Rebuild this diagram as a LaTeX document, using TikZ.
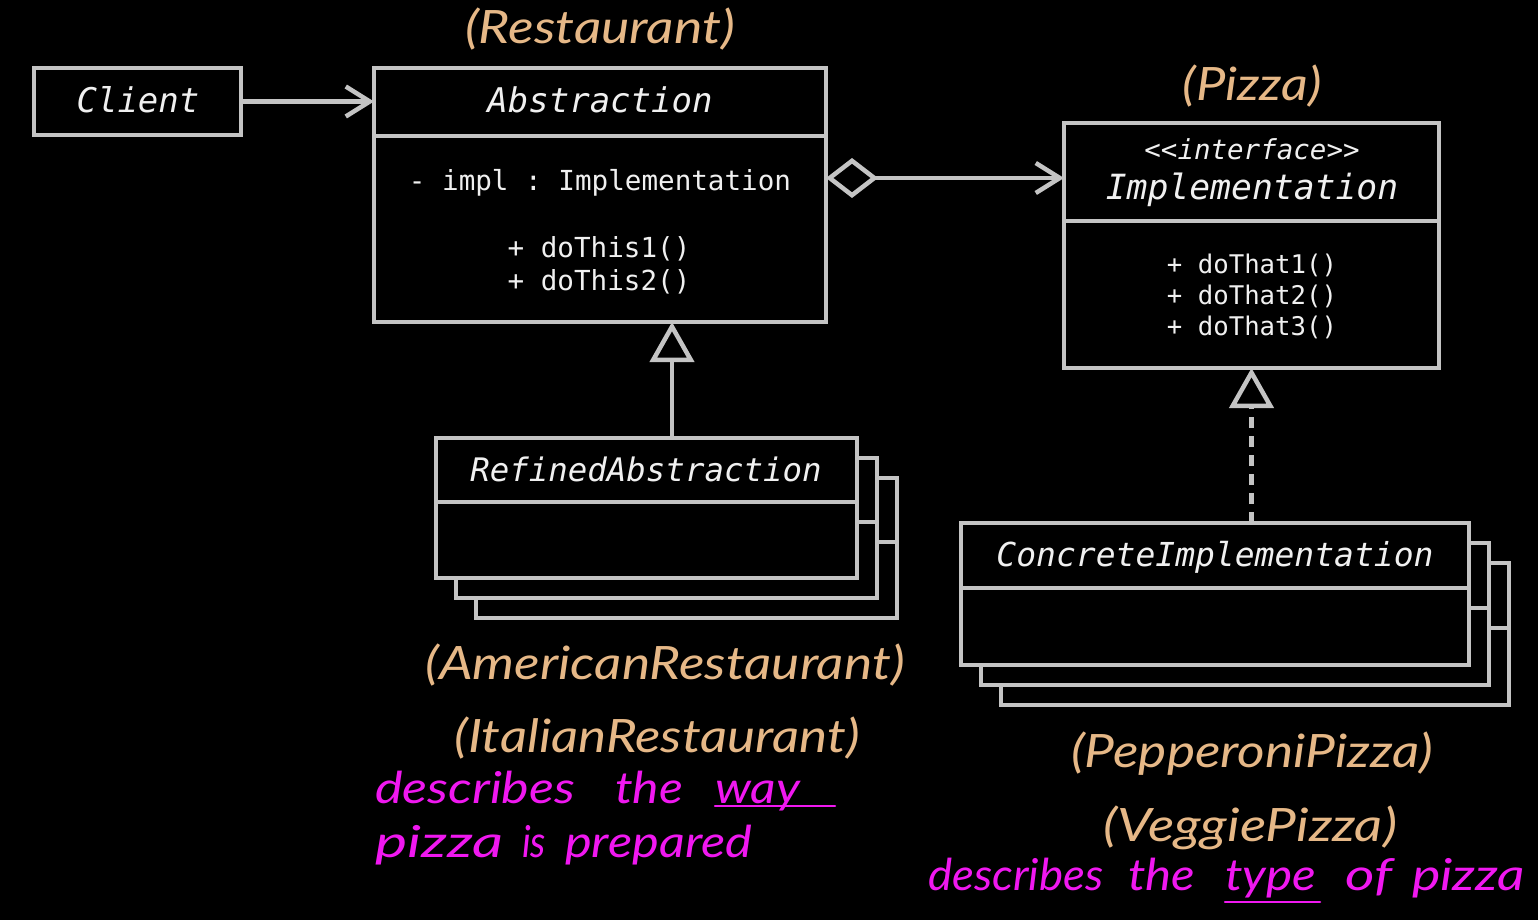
\documentclass[tikz,border=0pt]{standalone}
\usepackage{fontspec}
\usepackage{graphicx}
\usetikzlibrary{arrows.meta}
\setmonofont{DejaVu Sans Mono}[ItalicFont={DejaVu Sans Mono Oblique}]
\newfontfamily\orfont{Lato Italic}
\definecolor{linec}{RGB}{196,196,196}
\definecolor{txt}{RGB}{240,240,240}
\definecolor{orc}{RGB}{230,184,135}
\definecolor{mag}{RGB}{240,24,240}
\begin{document}
\begin{tikzpicture}[x=1pt,y=-1pt,
  ln/.style={draw=linec, line width=4.5pt},
  box/.style={ln, fill=black, rectangle, inner sep=0pt, outer sep=0pt, anchor=north west},
  mt/.style={font=\ttfamily\itshape\fontsize{34}{40}\selectfont, text=txt, anchor=base, inner sep=0pt},
  mm/.style={font=\ttfamily\fontsize{27.6}{32}\selectfont, text=txt, anchor=base, inner sep=0pt},
  orl/.style={font=\orfont\fontsize{46}{50}\selectfont, text=orc, anchor=base, inner sep=0pt},
  hand/.style={font=\orfont\fontsize{44}{48}\selectfont, text=mag, anchor=base west, inner sep=0pt},
  assoc/.style={ln, -{Straight Barb[length=24pt,width=30pt]}},
  agg/.style={ln, {Diamond[length=52pt,width=40pt,fill=black]}-{Straight Barb[length=24pt,width=30pt]}},
  gen/.style={ln, -{Triangle[length=40pt,width=44pt,fill=black]}},
  realize/.style={gen, dash pattern=on 11pt off 8pt}
]
\fill[black] (0,0) rectangle (1538,920);
\useasboundingbox (0,0) rectangle (1538,920);

% boxes
\node[box, minimum width=207pt, minimum height=67pt] (client) at (34,68) {};
\node[box, minimum width=452pt, minimum height=254pt] (abs) at (374,68) {};
\draw[ln] (abs.west |- 0,136) -- (abs.east |- 0,136);
\node[box, minimum width=375pt, minimum height=245pt] (impl) at (1064,123) {};
\draw[ln] (impl.west |- 0,221) -- (impl.east |- 0,221);

\node[box, minimum width=421pt, minimum height=140pt] (ref3) at (476,478) {};
\draw[ln] (ref3.west |- 0,542) -- (ref3.east |- 0,542);
\node[box, minimum width=421pt, minimum height=140pt] (ref2) at (456,458) {};
\draw[ln] (ref2.west |- 0,522) -- (ref2.east |- 0,522);
\node[box, minimum width=421pt, minimum height=140pt] (ref) at (436,438) {};
\draw[ln] (ref.west |- 0,502) -- (ref.east |- 0,502);

\node[box, minimum width=508pt, minimum height=142pt] (con3) at (1001,563) {};
\draw[ln] (con3.west |- 0,628) -- (con3.east |- 0,628);
\node[box, minimum width=508pt, minimum height=142pt] (con2) at (981,543) {};
\draw[ln] (con2.west |- 0,608) -- (con2.east |- 0,608);
\node[box, minimum width=508pt, minimum height=142pt] (con) at (961,523) {};
\draw[ln] (con.west |- 0,588) -- (con.east |- 0,588);

% texts in boxes
\node[mt] (tclient) at (138,113) {Client};
\node[mt] (tabs) at (600,113) {Abstraction};
\node[mm] (timpl) at (600,190) {- impl : Implementation};
\node[mm] (tdo1) at (599,257) {+ doThis1()};
\node[mm] (tdo2) at (599,290) {+ doThis2()};
\node[mt, font=\ttfamily\itshape\fontsize{27.5}{32}\selectfont] (tint) at (1252,160) {<{}<interface>{}>};
\node[mt, font=\ttfamily\itshape\fontsize{34.7}{40}\selectfont] (timp) at (1252,200) {Implementation};
\node[mm, font=\ttfamily\fontsize{25.7}{30}\selectfont] (tdt1) at (1252,273) {+ doThat1()};
\node[mm, font=\ttfamily\fontsize{25.7}{30}\selectfont] (tdt2) at (1252,304) {+ doThat2()};
\node[mm, font=\ttfamily\fontsize{25.7}{30}\selectfont] (tdt3) at (1252,335) {+ doThat3()};
\node[mt, font=\ttfamily\itshape\fontsize{32.4}{38}\selectfont] (tref) at (646,481) {RefinedAbstraction};
\node[mt, font=\ttfamily\itshape\fontsize{33}{38}\selectfont] (tcon) at (1215,566) {ConcreteImplementation};

% connectors
\coordinate (aggy) at (0,178);
\coordinate (genx) at (672,0);
\draw[assoc] (client.east) -- (client.east -| abs.west);
\draw[agg] (abs.east |- aggy) -- (impl.west |- aggy);
\draw[gen] (ref.north -| genx) -- (abs.south -| genx);
\draw[realize] (con.north -| impl.south) -- (impl.south);

% orange labels
\node[orl] (lrest) at (600,44) {\resizebox{270pt}{\height}{(Restaurant)}};
\node[orl] (lpizza) at (1252,101) {\resizebox{139pt}{\height}{(Pizza)}};
\node[orl] (lamer) at (665,679) {\resizebox{479pt}{\height}{(AmericanRestaurant)}};
\node[orl] (lital) at (657,752) {\resizebox{405pt}{\height}{(ItalianRestaurant)}};
\node[orl] (lpep) at (1252,767) {\resizebox{362pt}{\height}{(PepperoniPizza)}};
\node[orl] (lveg) at (1250,841) {\resizebox{294pt}{\height}{(VeggiePizza)}};

% handwritten notes
\node[hand] (h1) at (375,803) {\resizebox{200pt}{\height}{describes}};
\node[hand] (h2) at (615,803) {\resizebox{68pt}{\height}{the}};
\node[hand] (h3) at (715,803) {\resizebox{85pt}{\height}{way}};
\draw[draw=mag, line width=2.5pt, line cap=round] (h3.south west |- 0,806) coordinate (u1) -- (835,806) coordinate (u2);
\node[hand] (h4) at (375,857) {\resizebox{128pt}{\height}{pizza}};
\node[hand] (h5) at (522,857) {\resizebox{24pt}{\height}{is}};
\node[hand] (h6) at (565,857) {\resizebox{187pt}{\height}{prepared}};
\node[hand] (h7) at (928,890) {\resizebox{175pt}{\height}{describes}};
\node[hand] (h8) at (1128,890) {\resizebox{67pt}{\height}{the}};
\node[hand] (h9) at (1225,890) {\resizebox{91pt}{\height}{type}};
\draw[draw=mag, line width=2.5pt, line cap=round] (h9.south west |- 0,902) coordinate (u3) -- (1320,902) coordinate (u4);
\node[hand] (h10) at (1345,890) {\resizebox{47pt}{\height}{of}};
\node[hand] (h11) at (1412,890) {\resizebox{113pt}{\height}{pizza}};
\end{tikzpicture}
\end{document}
